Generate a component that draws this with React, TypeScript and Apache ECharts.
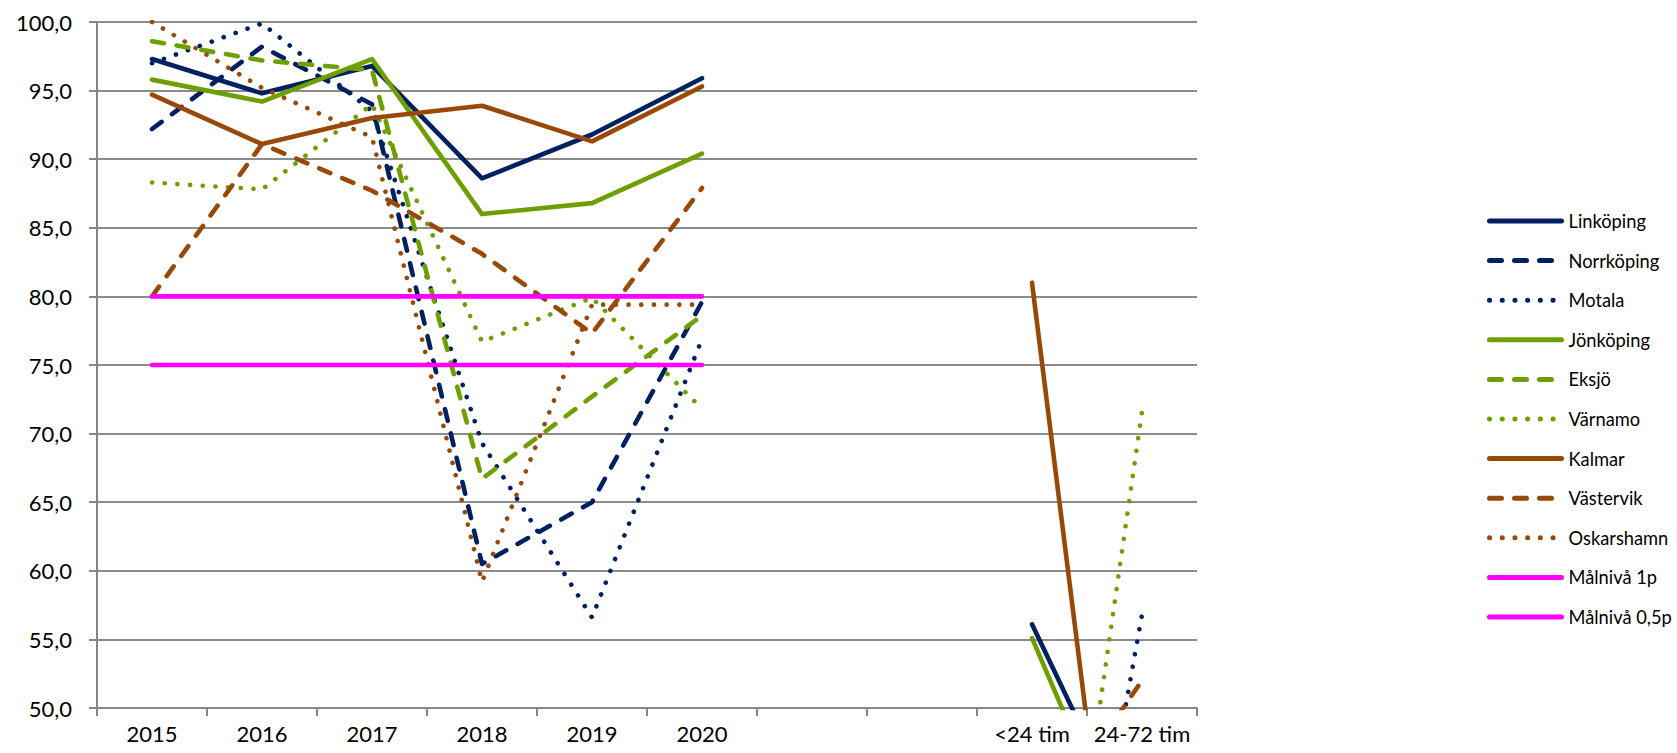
import React, { useEffect, useRef } from "react";
import * as echarts from "echarts";

const categories = ["2015", "2016", "2017", "2018", "2019", "2020", "", "", "<24 tim", "24-72 tim"];

const linkoping = [97.3, 94.8, 96.8, 88.6, 91.8, 95.9, null, null, 56.1, 39.3];
const norrkoping = [92.2, 98.2, 94.0, 60.5, 65.0, 79.6, null, null, null, null];
const motala = [97.0, 99.9, 93.5, 69.3, 56.6, 76.9, null, null, 12.0, 56.8];
const jonkoping = [95.8, 94.2, 97.3, 86.0, 86.8, 90.4, null, null, 55.1, 36.4];
const eksjo = [98.6, 97.2, 96.5, 66.7, 72.7, 78.6, null, null, null, null];
const varnamo = [88.3, 87.8, 94.0, 76.7, 79.9, 71.8, null, null, 15.6, 71.6];
const kalmar = [94.7, 91.1, 93.0, 93.9, 91.3, 95.3, null, null, 81.0, 16.9];
const vastervik = [80.0, 91.1, 87.7, 83.1, 77.3, 87.9, null, null, 40.4, 52.0];
const oskarshamn = [100.0, 95.2, 91.6, 59.2, 79.4, 79.4, null, null, null, null];
const malniva1p = [80, 80, 80, 80, 80, 80, null, null, null, null];
const malniva05p = [75, 75, 75, 75, 75, 75, null, null, null, null];

const yMin = 50;
const yMax = 100;
const yStep = 5;

const NAVY = "#002060";
const GREEN = "#6E9F00";
const BROWN = "#984807";
const MAGENTA = "#FF00FF";

const SOLID = "solid";
const DASHED = [12, 13];
const DOTTED = [0.1, 12.6];

const seriesDefs: [string, (number | null)[], string, any][] = [
  ["Linköping", linkoping, NAVY, SOLID],
  ["Norrköping", norrkoping, NAVY, DASHED],
  ["Motala", motala, NAVY, DOTTED],
  ["Jönköping", jonkoping, GREEN, SOLID],
  ["Eksjö", eksjo, GREEN, DASHED],
  ["Värnamo", varnamo, GREEN, DOTTED],
  ["Kalmar", kalmar, BROWN, SOLID],
  ["Västervik", vastervik, BROWN, DASHED],
  ["Oskarshamn", oskarshamn, BROWN, DOTTED],
  ["Målnivå 1p", malniva1p, MAGENTA, SOLID],
  ["Målnivå 0,5p", malniva05p, MAGENTA, SOLID],
];

const FONT = "Lato, 'Open Sans', sans-serif";

export default function App() {
  const ref = useRef<HTMLDivElement>(null);
  useEffect(() => {
    if (!ref.current) return;
    const chart = echarts.init(ref.current, null, { renderer: "svg" });
    chart.setOption({
      animation: false,
      backgroundColor: "#ffffff",
      grid: { left: 97, right: 480, top: 22, bottom: 45, containLabel: false },
      xAxis: {
        type: "category",
        data: categories,
        boundaryGap: true,
        axisLine: { show: true, lineStyle: { color: "#868686", width: 2 } },
        axisTick: { show: true, interval: 0, length: 8, lineStyle: { color: "#868686", width: 2 } },
        axisLabel: { interval: 0, color: "#000", fontFamily: FONT, fontSize: 22, margin: 14 },
        splitLine: { show: false },
      },
      yAxis: {
        type: "value",
        min: yMin,
        max: yMax,
        interval: yStep,
        axisLine: { show: true, lineStyle: { color: "#868686", width: 2 } },
        axisTick: { show: true, length: 8, lineStyle: { color: "#868686", width: 2 } },
        axisLabel: {
          color: "#000",
          fontFamily: FONT,
          fontSize: 22,
          margin: 25,
          formatter: (v: number) => v.toFixed(1).replace(".", ","),
        },
        splitLine: { show: true, lineStyle: { color: "#8C8C8C", width: 2 } },
      },
      legend: {
        orient: "vertical",
        left: 1487,
        top: 212,
        padding: 0,
        itemWidth: 72,
        itemHeight: 14,
        itemGap: 21.6,
        textStyle: { color: "#000", fontFamily: FONT, fontSize: 18.3, lineHeight: 14, padding: [0, 0, 0, 2] },
        itemStyle: { opacity: 0 },
        lineStyle: { width: 5 },
        data: seriesDefs.map((s) => s[0]),
      },
      series: seriesDefs.map(([name, data, color, type]) => ({
        name,
        type: "line",
        data,
        symbol: "none",
        connectNulls: false,
        clip: true,
        itemStyle: { color },
        lineStyle: { color, width: 4.6, type, cap: "round", join: "round" },
        emphasis: { disabled: true },
      })),
    });
    return () => chart.dispose();
  }, []);
  return (
    <div
      ref={ref}
      style={{ position: "fixed", left: 0, top: 0, width: 1677, height: 753 }}
    />
  );
}
